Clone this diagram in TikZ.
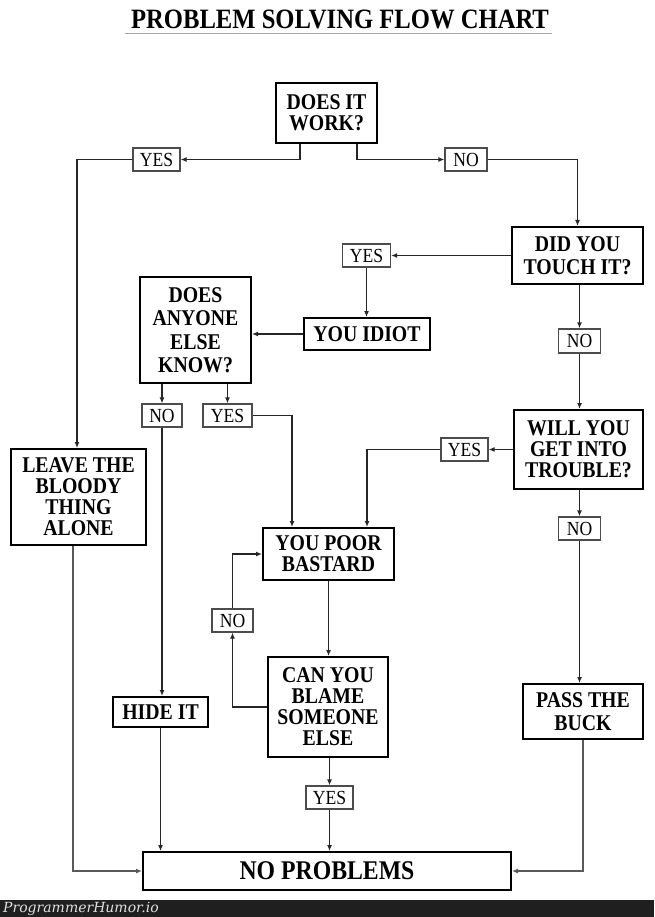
\documentclass[tikz,border=0pt]{standalone}
\usepackage{fontspec}
\setmainfont{Liberation Serif}
\newfontfamily\boxfont[FakeStretch=0.88]{Liberation Serif}
\newfontfamily\wmfont{DejaVu Serif}
\usetikzlibrary{arrows.meta}
\begin{document}
\begin{tikzpicture}[x=1pt,y=-1pt,
  mainbox/.style={draw=black, line width=2pt, inner sep=0pt, align=center,
    font=\boxfont\fontsize{22.5}{21}\selectfont\bfseries},
  lab/.style={draw=black!70, line width=1.2pt, inner sep=0pt,
    font=\boxfont\fontsize{20}{20}\selectfont},
  conn/.style={line width=1.3pt, draw=black!85, -{Latex[length=6pt,width=5pt]}},
]
\fill[white] (0,0) rectangle (654,917);
\useasboundingbox (0,0) rectangle (654,917);

% title
\node[font=\boxfont\fontsize{28}{28}\selectfont\bfseries] (title) at (340,19) {PROBLEM SOLVING FLOW CHART};
\draw[black!35, line width=0.8pt] (125,33) -- (552,33);

% main boxes
\node[mainbox, minimum width=101pt, minimum height=60pt] (does) at (326.5,113) {DOES IT\\WORK?};
\node[mainbox, minimum width=131pt, minimum height=57pt, font=\boxfont\fontsize{22.5}{23}\selectfont\bfseries] (touch) at (577.5,255.5) {DID YOU\\TOUCH IT?};
\node[mainbox, minimum width=126pt, minimum height=32pt] (idiot) at (367,334) {YOU IDIOT};
\node[mainbox, minimum width=111pt, minimum height=106pt, font=\boxfont\fontsize{22.5}{23.5}\selectfont\bfseries] (anyone) at (195.5,330) {DOES\\ANYONE\\ELSE\\KNOW?};
\node[mainbox, minimum width=129pt, minimum height=79pt] (will) at (578.5,449.5) {WILL YOU\\GET INTO\\TROUBLE?};
\node[mainbox, minimum width=135pt, minimum height=96pt] (leave) at (78.5,497) {LEAVE THE\\BLOODY\\THING\\ALONE};
\node[mainbox, minimum width=131pt, minimum height=52pt] (poor) at (328.5,554) {YOU POOR\\BASTARD};
\node[mainbox, minimum width=120pt, minimum height=100pt] (can) at (328,707) {CAN YOU\\BLAME\\SOMEONE\\ELSE};
\node[mainbox, minimum width=95pt, minimum height=30pt] (hide) at (160.5,712) {HIDE IT};
\node[mainbox, minimum width=120pt, minimum height=55pt, font=\boxfont\fontsize{22.5}{23}\selectfont\bfseries] (pass) at (583,711.5) {PASS THE\\BUCK};
\node[mainbox, minimum width=368pt, minimum height=38pt, font=\boxfont\fontsize{27}{27}\selectfont\bfseries] (nop) at (327,871) {NO PROBLEMS};

% label boxes
\node[lab, minimum width=47pt, minimum height=23pt] (yes1) at (156.5,159.5) {YES};
\node[lab, minimum width=42pt, minimum height=23pt] (no1) at (466,159.5) {NO};
\node[lab, minimum width=48pt, minimum height=23pt] (yes2) at (366.5,255.5) {YES};
\node[lab, minimum width=42pt, minimum height=24pt] (no2) at (579.5,341) {NO};
\node[lab, minimum width=40pt, minimum height=23pt] (no3) at (162,415.5) {NO};
\node[lab, minimum width=49pt, minimum height=23pt] (yes3) at (227.5,415.5) {YES};
\node[lab, minimum width=47pt, minimum height=23pt] (yes4) at (464.5,449.5) {YES};
\node[lab, minimum width=42pt, minimum height=23pt] (no4) at (579.5,528.5) {NO};
\node[lab, minimum width=41pt, minimum height=23pt] (no5) at (232.5,620.5) {NO};
\node[lab, minimum width=47pt, minimum height=23pt] (yes6) at (329.5,797.5) {YES};

% connectors
\draw[conn] ([xshift=-26.5pt]does.south) |- (yes1.east);
\draw[conn] (yes1.west) -| ([xshift=-1.5pt]leave.north);
\draw[conn] ([xshift=30.5pt]does.south) |- (no1.west);
\draw[conn] (no1.east) -| (touch.north);
\draw[conn] (touch.west) -- (yes2.east);
\draw[conn] (yes2.south) -- (yes2.south |- idiot.north);
\draw[conn] (idiot.west) -- (idiot.west -| anyone.east);
\draw[conn] (anyone.south -| no3.north) -- (no3.north);
\draw[conn] (anyone.south -| yes3.north) -- (yes3.north);
\draw[conn] (touch.south -| no2.north) -- (no2.north);
\draw[conn] (no2.south) -- (no2.south |- will.north);
\draw[conn] (will.west) -- (yes4.east);
\draw[conn] (yes4.west) -| ([xshift=38.5pt]poor.north);
\draw[conn] (yes3.east) -| ([xshift=-36.5pt]poor.north);
\draw[conn] (will.south -| no4.north) -- (no4.north);
\draw[conn] (no4.south) -- (no4.south |- pass.north);
\draw[conn] (no3.south) -- (no3.south |- hide.north);
\draw[conn] (poor.south) -- (poor.south |- can.north);
\draw[conn] (can.west) -| (no5.south);
\draw[conn] (no5.north) |- (poor.west);
\draw[conn] (can.south -| yes6.north) -- (yes6.north);
\draw[conn] (yes6.south) -- (yes6.south |- nop.north);
\draw[conn] (hide.south) -- (hide.south |- nop.north);
\draw[conn, draw=black!65, line width=1.6pt] ([xshift=-5.5pt]leave.south) |- (nop.west);
\draw[conn, draw=black!65, line width=1.6pt] (pass.south) |- (nop.east);

% bottom bar
\fill[black!88] (0,900) rectangle (654,917);
\node[anchor=west, inner sep=0pt, text=black!12, font=\wmfont\itshape\fontsize{14}{14}\selectfont] (wm) at (3,908.5) {ProgrammerHumor.io};
\end{tikzpicture}
\end{document}
